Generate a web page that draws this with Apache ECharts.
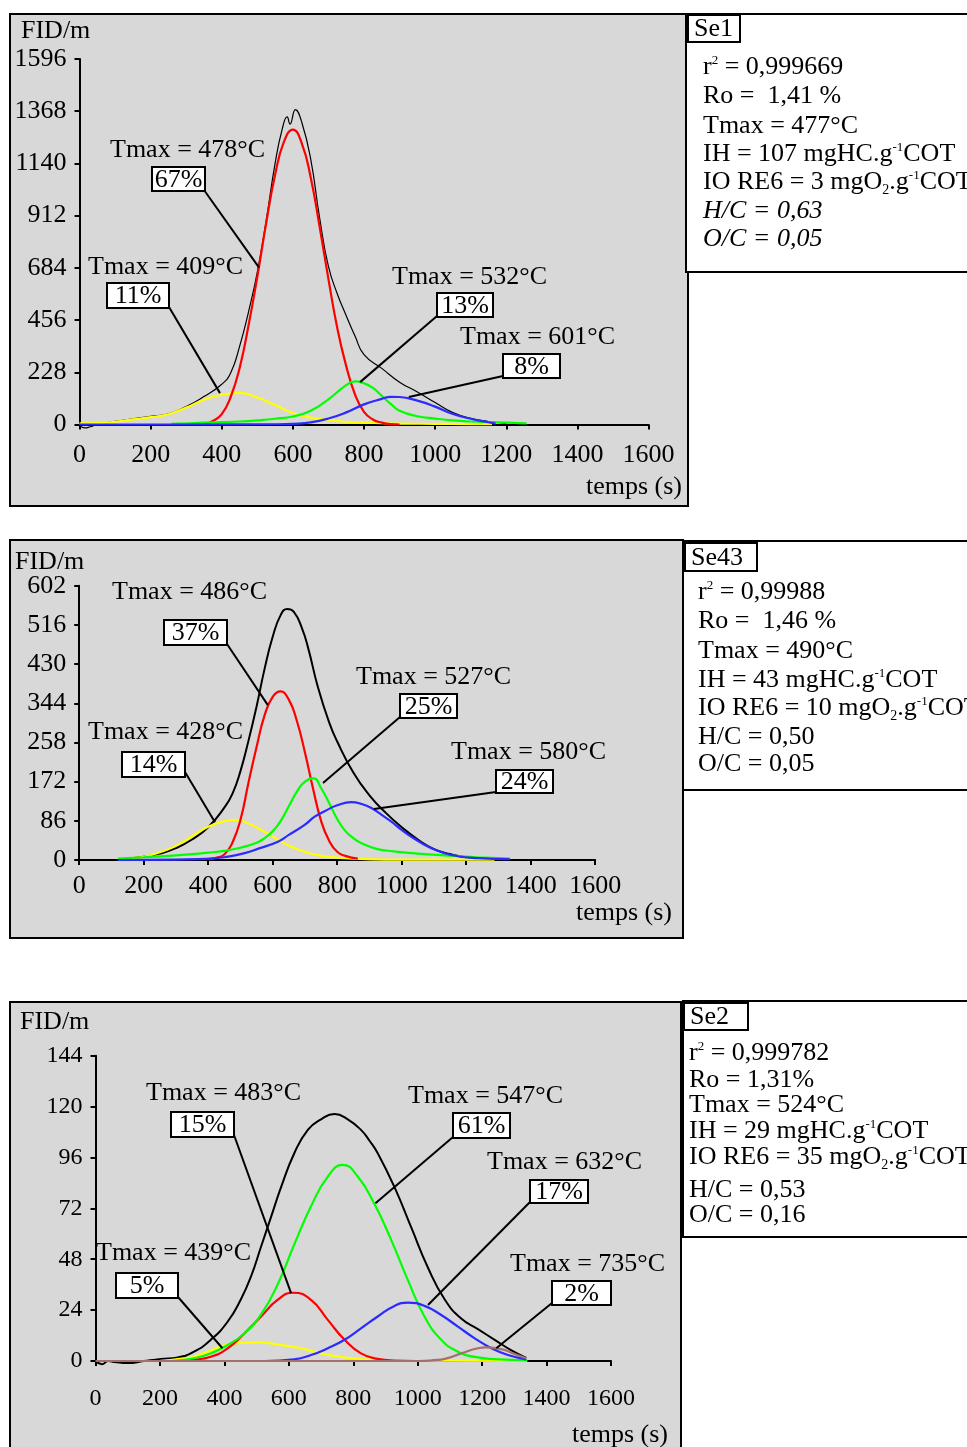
<!DOCTYPE html>
<html><head><meta charset="utf-8">
<script src="https://cdn.jsdelivr.net/npm/echarts@6/dist/echarts.min.js"></script>
<style>html,body{margin:0;padding:0;background:#fff}#c{width:967px;height:1447px}</style>
</head><body><div id="c"></div>
<script>
const FONT = '"Liberation Serif","Times New Roman",Times,serif';

// ---------------- Se1 (time s, FID/m) ----------------
const se1Total = [[0,-3],[15,-15],[30,-10],[50,0],[100,14],[150,25],[200,36],[250,47],[300,78],[350,122],[400,176],[425,225],[450,340],[475,490],[500,665],[525,890],[550,1140],[570,1290],[584,1343],[592,1312],[607,1375],[625,1320],[650,1160],[675,905],[700,690],[725,570],[750,475],[775,385],[800,305],[850,245],[900,185],[950,142],[1000,96],[1050,52],[1100,27],[1150,13],[1200,5]];
const se1Yellow = [[0,5],[50,6],[100,12],[150,22],[200,32],[250,45],[300,74],[350,108],[400,130],[450,138],[500,118],[550,85],[600,50],[650,30],[700,20],[750,12],[800,8],[850,6],[900,4],[1000,3],[1100,2],[1160,2]];
const se1Red = [[350,0],[375,15],[400,45],[425,120],[450,245],[475,430],[500,645],[525,880],[550,1090],[575,1235],[600,1288],[625,1228],[650,1080],[675,865],[700,635],[725,420],[750,255],[775,130],[800,55],[825,22],[850,8],[875,2],[900,0]];
const se1Green = [[258,3],[300,5],[350,8],[400,10],[450,13],[500,18],[550,25],[600,35],[650,60],[700,110],[750,172],[775,188],[800,180],[825,160],[850,125],[875,90],[900,60],[950,36],[1000,26],[1050,18],[1100,13],[1150,10],[1200,8],[1257,5]];
const se1Blue = [[0,0],[300,0],[550,1],[600,3],[650,9],[700,26],[750,53],[800,88],[850,112],[875,121],[900,120],[950,104],[1000,78],[1050,46],[1100,25],[1150,10],[1170,4]];
const se1Tmax = ['Tmax = 409°C','Tmax = 478°C','Tmax = 532°C','Tmax = 601°C'];
const se1Pct = ['11%','67%','13%','8%'];
const se1Info = ['{n|r}{sup|2}{n| = 0,999669}','{n|Ro =  1,41 %}','{n|Tmax = 477°C}','{n|IH = 107 mgHC.g}{sup|-1}{n|COT}','{n|IO RE6 = 3 mgO}{sub|2}{n|.g}{sup|-1}{n|COT}','{i|H/C = 0,63}','{i|O/C = 0,05}'];

// ---------------- Se43 ----------------
const se43Total = [[150,3],[200,7],[250,14],[300,26],[350,45],[400,72],[450,115],[475,145],[500,195],[525,262],[550,337],[575,420],[600,490],[625,538],[645,551],[665,545],[690,510],[710,465],[740,380],[775,302],[800,260],[850,192],[900,142],[950,104],[1000,72],[1050,45],[1100,24],[1150,13],[1200,6],[1275,3]];
const se43Yellow = [[122,3],[150,4],[200,7],[250,17],[300,31],[350,52],[400,73],[450,85],[487,88],[525,80],[575,62],[625,41],[675,24],[725,13],[775,7],[850,3],[950,1],[1100,1],[1288,1]];
const se43Red = [[400,2],[425,5],[450,12],[475,38],[500,88],[525,170],[550,248],[575,318],[600,358],[624,370],[650,352],[675,305],[700,236],[725,157],[750,86],[775,42],[800,18],[825,9],[864,3]];
const se43Green = [[120,3],[200,6],[300,10],[400,16],[450,20],[500,27],[550,38],[575,48],[600,63],[625,86],[650,118],[675,150],[700,172],[727,179],[750,158],[775,125],[800,90],[825,64],[850,48],[875,37],[925,24],[975,19],[1030,15],[1133,10],[1237,6],[1336,3]];
const se43Blue = [[120,0],[300,1],[410,3],[450,6],[513,15],[560,26],[616,40],[650,55],[699,77],[730,95],[761,107],[800,120],[844,127],[875,123],[906,114],[940,98],[968,84],[1000,66],[1030,51],[1060,38],[1092,26],[1154,11],[1237,4],[1335,2]];
const se43Tmax = ['Tmax = 428°C','Tmax = 486°C','Tmax = 527°C','Tmax = 580°C'];
const se43Pct = ['14%','37%','25%','24%'];
const se43Info = ['{n|r}{sup|2}{n| = 0,99988}','{n|Ro =  1,46 %}','{n|Tmax = 490°C}','{n|IH = 43 mgHC.g}{sup|-1}{n|COT}','{n|IO RE6 = 10 mgO}{sub|2}{n|.g}{sup|-1}{n|COT}','{n|H/C = 0,50}','{n|O/C = 0,05}'];

// ---------------- Se2 ----------------
const se2Total = [[0,0],[20,-1.5],[40,0],[60,-0.5],[100,-1],[150,0],[203,1],[255,1.7],[306,4.4],[358,10],[410,18.5],[451,29],[483,40],[514,54],[545,68],[576,82],[617,98],[659,109],[700,114],[742,116.5],[783,114],[824,109],[850,104],[876,98],[928,82],[980,63],[1032,44],[1084,29],[1135,20],[1187,15],[1239,10],[1291,5],[1337,1.5]];
const se2Yellow = [[200,0],[250,0.8],[306,2],[350,4.5],[389,6.8],[441,8.4],[503,8.8],[576,7.5],[638,6],[700,3.6],[773,1.7],[876,0.5],[1000,0.2],[1340,0.1]];
const se2Red = [[255,0],[300,0.5],[358,2],[410,6],[462,13],[514,21],[565,28.8],[614,32.2],[669,28.8],[721,19.4],[773,10],[824,3.6],[876,1],[928,0.2],[1000,0]];
const se2Green = [[234,0],[306,1.3],[358,3.6],[410,7.5],[462,13],[514,22],[565,36],[617,55],[669,73],[721,87],[767,92.5],[814,87],[866,74],[918,57],[970,38],[1021,21],[1073,10],[1125,4.4],[1187,1.7],[1291,0.5],[1340,0.3]];
const se2Blue = [[524,0],[617,0.8],[669,2.8],[721,6],[773,10],[824,15.4],[876,21],[928,26],[970,27.5],[1021,26],[1073,21.7],[1125,16.2],[1177,10.7],[1229,6],[1280,2.8],[1337,0.8]];
const se2Brown = [[0,0],[500,0],[1000,0],[1050,0.4],[1084,1],[1135,3.6],[1187,6],[1213,6.4],[1260,5.6],[1301,3.3],[1337,1.3]];
const se2Tmax = ['Tmax = 439°C','Tmax = 483°C','Tmax = 547°C','Tmax = 632°C','Tmax = 735°C'];
const se2Pct = ['5%','15%','61%','17%','2%'];
const se2Info = ['{n|r}{sup|2}{n| = 0,999782}','{n|Ro = 1,31%}','{n|Tmax = 524°C}','{n|IH = 29 mgHC.g}{sup|-1}{n|COT}','{n|IO RE6 = 35 mgO}{sub|2}{n|.g}{sup|-1}{n|COT}','{n|H/C = 0,53}','{n|O/C = 0,16}'];

const sampleNames = ['Se1','Se43','Se2'];
const yMax = [1596, 602, 144];
const yStep = [228, 86, 24];

// ---------------- styles & layout ----------------
const COL = {total:'#000000', red:'#ff0000', green:'#00ff00', blue:'#2b2bff', yellow:'#ffff00', brown:'#a86e6e'};

const panels = [
  { series:[[se1Total,'total',1.2],[se1Yellow,'yellow',2.2],[se1Red,'red',2.2],[se1Green,'green',2.2],[se1Blue,'blue',2.2]],
    tmax:se1Tmax, pct:se1Pct, info:se1Info },
  { series:[[se43Total,'total',2],[se43Yellow,'yellow',2.2],[se43Red,'red',2.2],[se43Green,'green',2.2],[se43Blue,'blue',2.2]],
    tmax:se43Tmax, pct:se43Pct, info:se43Info },
  { series:[[se2Total,'total',2],[se2Yellow,'yellow',2.2],[se2Red,'red',2.2],[se2Green,'green',2.2],[se2Blue,'blue',2.2],[se2Brown,'brown',2.2]],
    tmax:se2Tmax, pct:se2Pct, info:se2Info }
];

const LAYOUT = [
  { grid:{left:79.5, top:59, width:569, height:365.5}, fs:26, xm:18, ym:13,
    frame:[10,14,678,492], infoBox:[686,14,300,258], tag:[688,15,52,27], infoX:703, infoY:[68,97,127,155,183,212,240],
    fid:[21,31], temps:[682,487],
    ann:[ {tx:88,ty:267,box:[107,283,62,25],from:[169,307],to:[395,137]},
          {tx:110,ty:150,box:[152,167,53,24],from:[204,190],to:[505,685]},
          {tx:392,ty:277,box:[437,293,56,24],from:[437,316],to:[789,185]},
          {tx:460,ty:337,box:[503,354,57,24],from:[503,376],to:[926,120]} ] },
  { grid:{left:79.2, top:585.7, width:516, height:274.3}, fs:26, xm:13, ym:13,
    frame:[10,540,673,398], infoBox:[683,541,300,249], tag:[685,543,72,28], infoX:698, infoY:[593,622,652,681,709,738,765],
    fid:[15,562], temps:[672,913],
    ann:[ {tx:88,ty:732,box:[122,752,63,25],from:[185,772],to:[421,83]},
          {tx:112,ty:592,box:[164,620,63,25],from:[227,644],to:[585,340]},
          {tx:356,ty:677,box:[400,694,57,24],from:[400,717],to:[756,169]},
          {tx:451,ty:752,box:[496,770,57,23],from:[496,792],to:[914,112]} ] },
  { grid:{left:95.5, top:1055.7, width:515.5, height:305.3}, fs:24, xm:26, ym:13,
    frame:[10,1002,671,470], infoBox:[683,1001,300,236], tag:[684,1003,64,27], infoX:689, infoY:[1054,1081,1106,1132,1158,1191,1216],
    fid:[20,1022], temps:[668,1435],
    ann:[ {tx:96,ty:1253,box:[116,1273,62,25],from:[178,1297],to:[394,6]},
          {tx:146,ty:1093,box:[171,1112,63,25],from:[234,1135],to:[607,32]},
          {tx:408,ty:1096,box:[453,1113,57,25],from:[453,1137],to:[869,74.4]},
          {tx:487,ty:1162,box:[530,1180,58,23],from:[530,1202],to:[1032,26.4]},
          {tx:510,ty:1264,box:[552,1281,59,24],from:[552,1303],to:[1244,6]} ] }
];

const chart = echarts.init(document.getElementById('c'), null, {renderer:'canvas', width:967, height:1447});
const plain = v => String(v);

const option = {animation:false, backgroundColor:'#ffffff', grid:[], xAxis:[], yAxis:[], series:[]};
LAYOUT.forEach((L, i) => {
  option.grid.push(Object.assign({show:false, containLabel:false, outerBoundsMode:'none'}, L.grid));
  const lbl = {color:'#000', fontFamily:FONT, fontSize:L.fs, formatter:plain};
  option.xAxis.push({gridIndex:i, type:'value', min:0, max:1600, interval:200,
    axisLine:{show:true, onZero:false, lineStyle:{color:'#000', width:2}},
    axisTick:{show:true, length:5, lineStyle:{color:'#000', width:2}},
    axisLabel:Object.assign({margin:L.xm, showMaxLabel:true, showMinLabel:true}, lbl), splitLine:{show:false}});
  option.yAxis.push({gridIndex:i, type:'value', min:0, max:yMax[i], interval:yStep[i],
    axisLine:{show:true, onZero:false, lineStyle:{color:'#000', width:2}},
    axisTick:{show:true, length:5, lineStyle:{color:'#000', width:2}},
    axisLabel:Object.assign({margin:L.ym, showMaxLabel:true, showMinLabel:true}, lbl), splitLine:{show:false}});
  panels[i].series.forEach(([d, c, w]) => {
    option.series.push({type:'line', xAxisIndex:i, yAxisIndex:i, data:d, showSymbol:false, symbol:'none',
      smooth:0.5, clip:false, silent:true, z:3,
      lineStyle:{color:COL[c], width:w}, itemStyle:{color:COL[c]}});
  });
});
chart.setOption(option);

// ---------------- graphic overlay ----------------
const els = [];
const rich = {
  n:{fontSize:26, fontFamily:FONT, fill:'#000', lineHeight:28, verticalAlign:'top'},
  i:{fontSize:26, fontFamily:FONT, fill:'#000', fontStyle:'italic', lineHeight:28, verticalAlign:'top'},
  sup:{fontSize:13, fontFamily:FONT, fill:'#000', lineHeight:14, verticalAlign:'top'},
  sub:{fontSize:14, fontFamily:FONT, fill:'#000', lineHeight:14, verticalAlign:'bottom'}
};
function txt(text, x, y, align, valign, size, z) {
  return {type:'text', x:x, y:y, z:z || 20, silent:true,
    style:{text:text, fill:'#000', fontSize:size || 26, fontFamily:FONT,
      align:align, verticalAlign:valign, textAlign:align, textVerticalAlign:valign}};
}
LAYOUT.forEach((L, i) => {
  const P = panels[i];
  els.push({type:'rect', z:-10, silent:true, shape:{x:L.frame[0], y:L.frame[1], width:L.frame[2], height:L.frame[3]},
    style:{fill:'#d8d8d8', stroke:'#000', lineWidth:2}});
  els.push({type:'rect', z:-9, silent:true, shape:{x:L.infoBox[0], y:L.infoBox[1], width:L.infoBox[2], height:L.infoBox[3]},
    style:{fill:'#ffffff', stroke:'#000', lineWidth:2}});
  els.push({type:'rect', z:-8, silent:true, shape:{x:L.tag[0], y:L.tag[1], width:L.tag[2], height:L.tag[3]},
    style:{fill:'#ffffff', stroke:'#000', lineWidth:2}});
  els.push(txt(sampleNames[i], L.tag[0] + 6, L.tag[1] + L.tag[3] / 2 + 1, 'left', 'middle', 26));
  P.info.forEach((line, k) => {
    els.push({type:'text', x:L.infoX, y:L.infoY[k] - 14, z:20, silent:true,
      style:{text:line, rich:rich, fill:'#000', fontSize:26, fontFamily:FONT,
        align:'left', verticalAlign:'top', textAlign:'left', textVerticalAlign:'top'}});
  });
  els.push(txt('FID/m', L.fid[0], L.fid[1], 'left', 'middle', 26));
  els.push(txt('temps (s)', L.temps[0], L.temps[1], 'right', 'middle', 26));
  L.ann.forEach((a, k) => {
    const p = chart.convertToPixel({gridIndex:i}, a.to);
    els.push({type:'line', z:15, silent:true, shape:{x1:a.from[0], y1:a.from[1], x2:p[0], y2:p[1]},
      style:{stroke:'#000', lineWidth:2}});
    els.push({type:'rect', z:16, silent:true, shape:{x:a.box[0], y:a.box[1], width:a.box[2], height:a.box[3]},
      style:{fill:'#ffffff', stroke:'#000', lineWidth:2}});
    els.push(txt(P.pct[k], a.box[0] + a.box[2] / 2, a.box[1] + a.box[3] / 2 + 1, 'center', 'middle', 26, 17));
    els.push(txt(P.tmax[k], a.tx, a.ty, 'left', 'middle', 26, 17));
  });
});
chart.setOption({graphic:{elements:els}});
</script>
</body></html>
